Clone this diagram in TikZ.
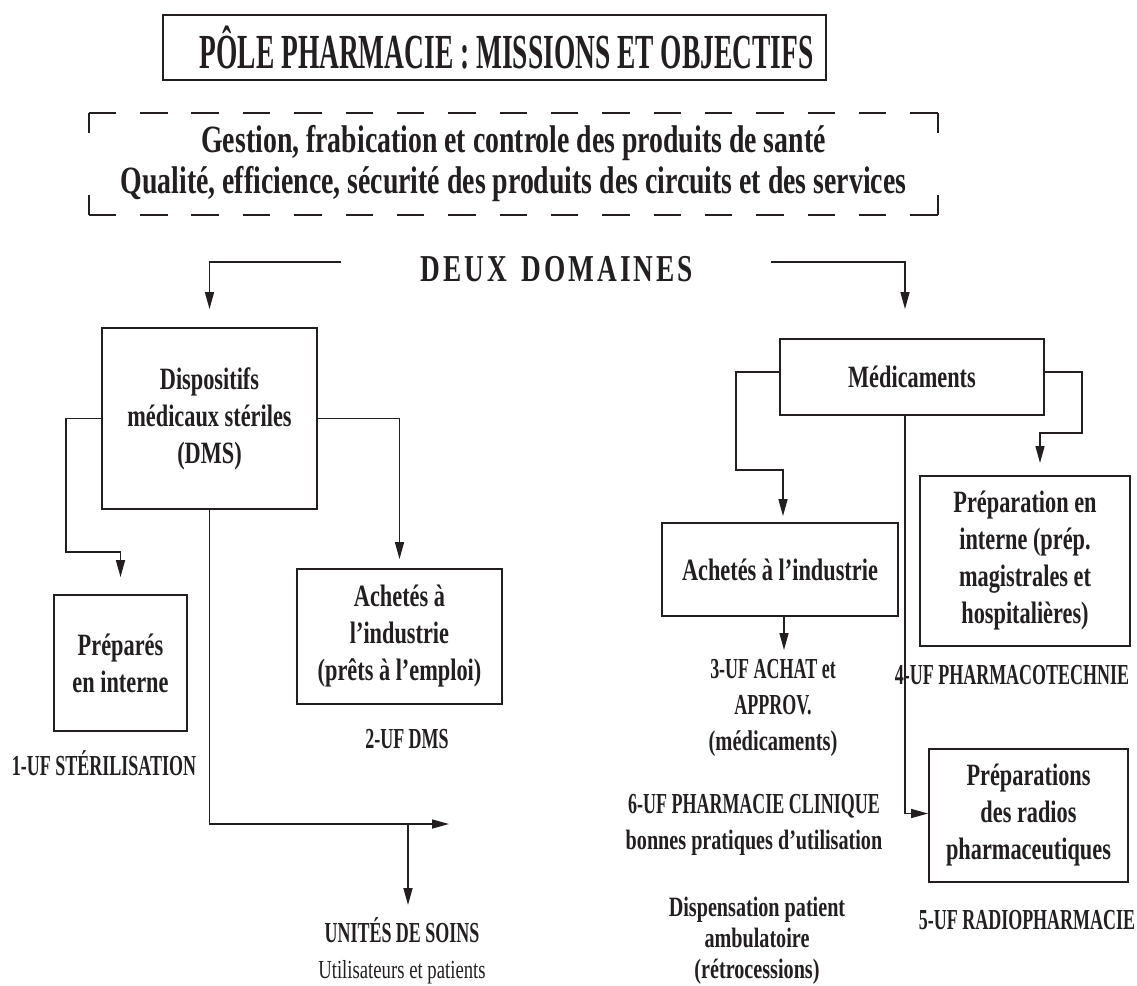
\documentclass[tikz,border=0pt]{standalone}
\usepackage{fontspec}
\setmainfont{Liberation Serif}[FakeStretch=0.72]
\newfontfamily\capsfont{Liberation Serif}[FakeStretch=0.62]
\newfontfamily\headfont{Liberation Serif}[FakeStretch=0.56]
\usetikzlibrary{arrows.meta}
\newcommand\myfs[2]{\fontsize{#1}{#2}\selectfont}
\definecolor{ink}{HTML}{231F20}
\begin{document}
\begin{tikzpicture}[x=1pt,y=-1pt,
  every node/.style={text=ink},
  box/.style={draw=ink, line width=1.8pt, inner sep=0pt, align=center, font=\bfseries\myfs{31}{37}},
  lab/.style={inner sep=0pt, align=center, font=\capsfont\bfseries\myfs{29}{36}},
  dashh/.style={draw=ink, line width=1.8pt, dash pattern=on 27.5pt off 23.84pt},
  dashv/.style={draw=ink, line width=1.8pt, dash pattern=on 20pt off 62pt},
  arr/.style={draw=ink, line width=1.5pt, -{Triangle[length=17pt,width=9pt]}}]

\useasboundingbox (0,0) rectangle (1137,985);

% header
\node[box, minimum width=663pt, minimum height=65pt, font=\headfont\bfseries\myfs{49}{52}] (title) at (494.5,47.5) {\hspace*{24pt}PÔLE PHARMACIE : MISSIONS ET OBJECTIFS};

\node[inner sep=0pt, minimum width=849pt, minimum height=102pt, align=center, font=\bfseries\myfs{38.6}{41}] (goal) at (513.5,164) {Gestion, frabication et controle des produits de santé\\Qualité, efficience, sécurité des produits des circuits et des services};
\draw[dashh] (goal.north west) -- (goal.north east);
\draw[dashh] (goal.south west) -- (goal.south east);
\draw[dashv] (goal.north west) -- (goal.south west);
\draw[dashv] (goal.north east) -- (goal.south east);

\node[inner sep=0pt, font=\bfseries\myfs{38}{40}] (deux) at (557,269) {D\kern3pt E\kern3pt U\kern3pt X\hspace{14pt}D\kern3pt O\kern3pt M\kern3pt A\kern3pt I\kern3pt N\kern3pt E\kern3pt S};

% boxes
\node[box, minimum width=215pt, minimum height=181pt] (dms) at (209.5,418.5) {Dispositifs\\médicaux stériles\\(DMS)};
\node[box, minimum width=133pt, minimum height=136pt] (prep) at (120.5,663) {Préparés\\en interne};
\node[box, minimum width=205pt, minimum height=135pt] (achD) at (399.5,636.5) {Achetés à\\l’industrie\\(prêts à l’emploi)};
\node[box, minimum width=264pt, minimum height=76pt] (med) at (912,377) {Médicaments};
\node[box, minimum width=236pt, minimum height=93pt] (achM) at (780,569.5) {Achetés à l’industrie};
\node[box, minimum width=210pt, minimum height=170pt] (prepI) at (1025,561) {Préparation en\\interne (prép.\\magistrales et\\hospitalières)};
\node[box, minimum width=199pt, minimum height=133pt] (radio) at (1028.5,815.5) {Préparations\\des radios\\pharmaceutiques};

% labels
\node[lab] (uf1) at (104,763) {1-UF STÉRILISATION};
\node[lab] (uf2) at (407,739) {2-UF DMS};
\node[lab] (unites) at (402,951) {UNITÉS DE SOINS\\{\rmfamily\mdseries\myfs{26}{36}Utilisateurs et patients}};
\node[lab] (uf3) at (773,708) {3-UF ACHAT et\\APPROV.\\{\rmfamily\myfs{28.5}{37}(médicaments)}};
\node[lab] (uf4) at (1012,675) {4-UF PHARMACOTECHNIE};
\node[lab] (uf6) at (754,825) {6-UF PHARMACIE CLINIQUE\\{\rmfamily\myfs{28}{36}bonnes pratiques d'utilisation}};
\node[lab, font=\bfseries\myfs{28}{31}] (disp) at (757,941) {Dispensation patient\\ambulatoire\\(rétrocessions)};
\node[lab] (uf5) at (1027,920) {5-UF RADIOPHARMACIE};

% coordinates
\coordinate (dl) at (341,262);
\coordinate (dr) at (771,262);
\coordinate (d1) at (66,552);
\coordinate (uend) at (449,824);
\coordinate (ujoin) at (408,824);
\coordinate (utip) at (408,905);
\coordinate (m1) at (736,470);
\coordinate (m2) at (1082,433);
\coordinate (m2t) at (1040,463);
\coordinate (m3) at (784,650);

% connectors
\draw[arr, shorten >=18pt] (dl) -| (dms.north);
\draw[arr, shorten >=29pt] (dr) -| ([xshift=-7pt]med.north);
\draw[arr, shorten >=17pt] (dms.west) -| (d1) -| (prep.north);
\draw[arr, shorten >=9pt] (dms.east) -| (achD.north);
\draw[arr] (dms.south) |- (uend);
\draw[arr] (ujoin) -- (utip);
\draw[arr, shorten >=6pt] ([yshift=5pt]med.west) -| (m1) -| ([xshift=3pt]achM.north);
\draw[arr] ([yshift=5pt]med.east) -| (m2) -| (m2t);
\draw[arr] ([xshift=-7pt]med.south) |- ([yshift=2pt]radio.west);
\draw[arr] ([xshift=4pt]achM.south) -- (m3);
\end{tikzpicture}
\end{document}
